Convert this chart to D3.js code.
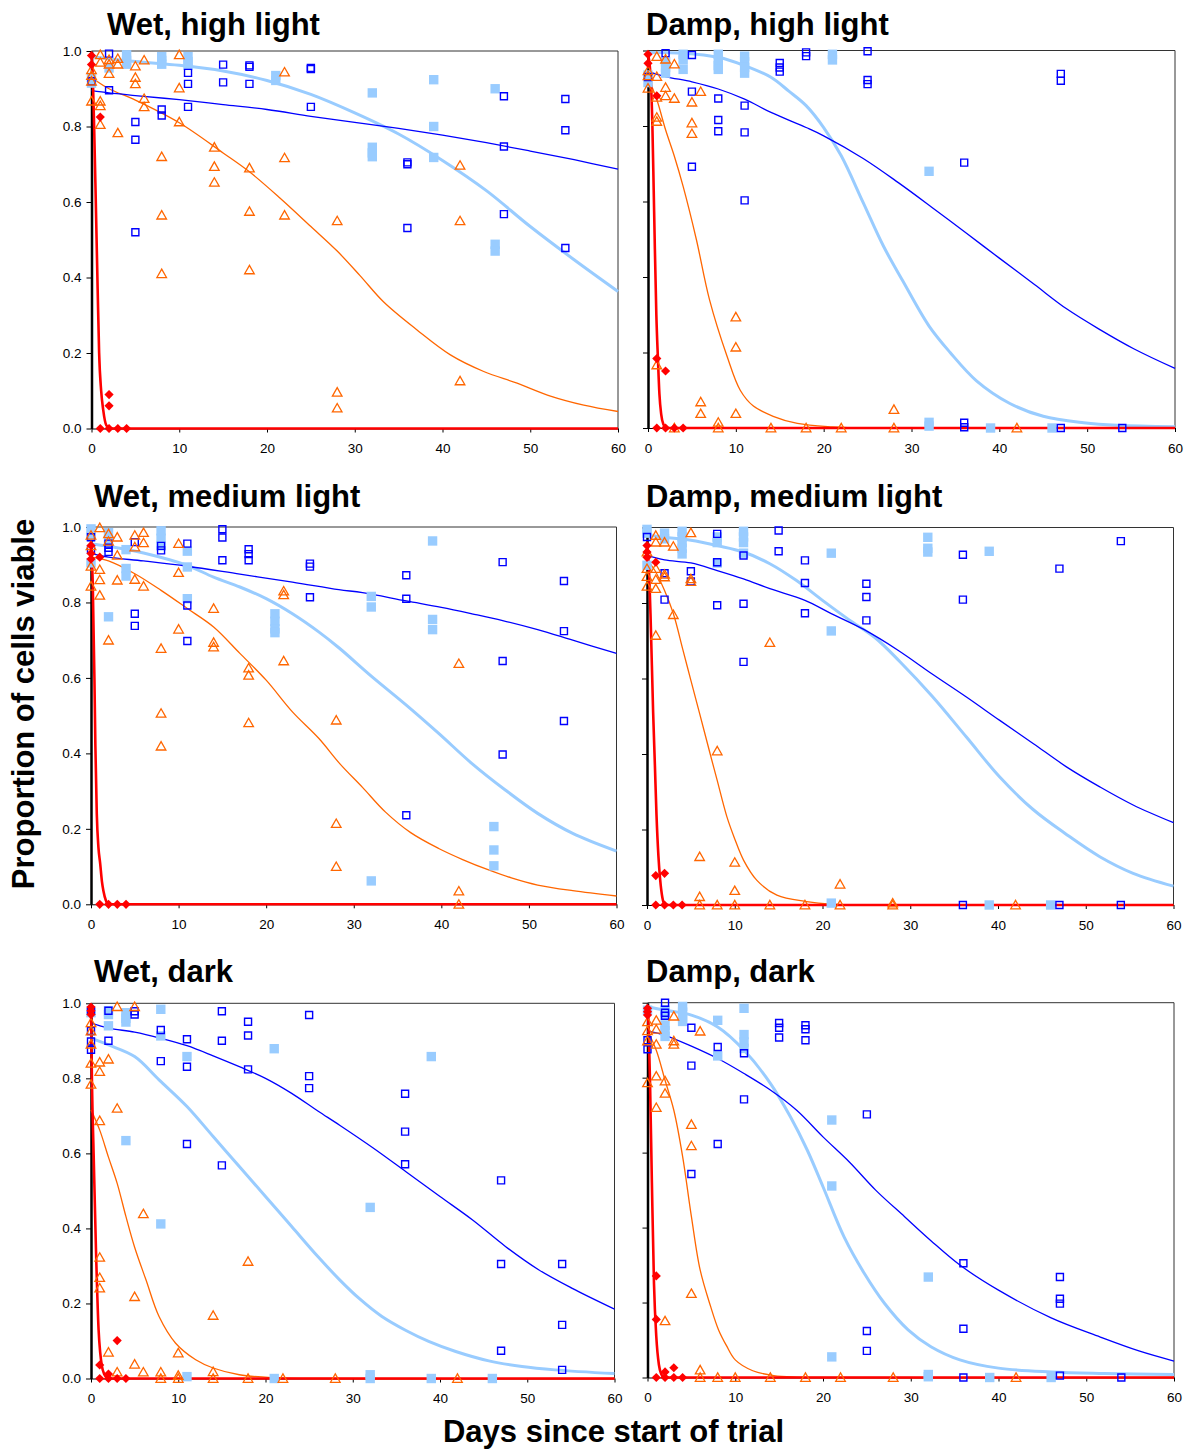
<!DOCTYPE html>
<html>
<head>
<meta charset="utf-8">
<script src="https://cdn.jsdelivr.net/npm/d3@7"></script>
<style>
html, body { margin: 0; padding: 0; background: #fff; }
svg { display: block; font-family: "Liberation Sans", Arial, Helvetica, sans-serif; }
</style>
</head>
<body>
<svg id="chart" width="1189" height="1450"></svg>
<script>
// ---- axis ticks and titles ----
const xTicks = [0, 10, 20, 30, 40, 50, 60];
const yTicks = [0, 0.2, 0.4, 0.6, 0.8, 1.0];
const panelTitles = ["Wet, high light", "Damp, high light", "Wet, medium light",
                     "Damp, medium light", "Wet, dark", "Damp, dark"];
const yAxisTitle = "Proportion of cells viable";
const xAxisTitle = "Days since start of trial";

// ---- observations: [day, [proportion viable of each replicate]] ----
// Wet, high light
const wetHighRed = [[0,[0.988,0.964]],[1,[0.825,0]],[2,[0.09,0.06,0]],[3,[0]],[4,[0]]];
const wetHighOrange = [[0,[0.95,0.935,0.92,0.867]],[1,[0.99,0.97,0.867,0.855,0.805]],[2,[0.977,0.965,0.94]],
  [3,[0.98,0.965,0.783]],[5,[0.96,0.93,0.913]],[6,[0.976,0.874,0.852]],[8,[0.72,0.565,0.41]],
  [10,[0.99,0.902,0.812]],[14,[0.745,0.694,0.652]],[18,[0.69,0.575,0.42]],[22,[0.944,0.717,0.565]],
  [28,[0.55,0.096,0.054]],[42,[0.697,0.55,0.126]]];
const wetHighBlue = [[0,[0.92]],[2,[0.993,0.896]],[5,[0.812,0.765,0.52]],[8,[0.845,0.829]],
  [11,[0.942,0.913,0.852]],[15,[0.964,0.917]],[18,[0.962,0.958,0.913]],[25,[0.955,0.952,0.852]],
  [36,[0.705,0.70,0.531]],[47,[0.88,0.747,0.568]],[54,[0.873,0.79,0.478]]];
const wetHighSky = [[0,[0.93,0.915]],[2,[0.955]],[4,[0.99,0.975,0.965]],[8,[0.985,0.975,0.965]],
  [11,[0.985,0.972,0.962]],[21,[0.935,0.922]],[32,[0.889,0.745,0.73,0.72]],[39,[0.924,0.80,0.718]],
  [46,[0.90,0.488,0.47]]];

// Damp, high light
const dampHighRed = [[0,[0.99,0.966]],[1,[0.88,0.184,0]],[2,[0.151,0]],[3,[0]],[4,[0]]];
const dampHighOrange = [[0,[0.946,0.933,0.90]],[1,[0.984,0.931,0.876,0.823,0.812,0.167]],[2,[0.977,0.902,0.88]],
  [3,[0.964,0.873,0]],[5,[0.863,0.808,0.78]],[6,[0.891,0.069,0.038]],[8,[0.015,0]],[10,[0.294,0.214,0.038]],
  [14,[0]],[18,[0]],[22,[0]],[28,[0.049,0]],[42,[0]]];
const dampHighBlue = [[0,[0.93]],[2,[0.993]],[5,[0.988,0.891,0.692]],[8,[0.873,0.816,0.786]],
  [11,[0.854,0.783,0.603]],[15,[0.967,0.955,0.944]],[18,[0.995,0.985]],[25,[0.998,0.922,0.911]],
  [36,[0.703,0.014,0.002]],[47,[0.938,0.92,0]],[54,[0]]];
const dampHighSky = [[0,[0.935,0.915]],[2,[0.97,0.955,0.94]],[4,[0.99,0.975,0.95]],[8,[0.99,0.975,0.96,0.95]],
  [11,[0.985,0.97,0.955,0.94]],[21,[0.99,0.975]],[32,[0.68,0.015,0.005]],[39,[0]],[46,[0]]];

// Wet, medium light
const wetMedRed = [[0,[0.951,0.93,0.915]],[1,[0.92,0]],[2,[0]],[3,[0]],[4,[0]]];
const wetMedOrange = [[0,[0.978,0.95,0.896,0.843]],[1,[0.998,0.887,0.86,0.819]],[2,[0.982,0.962,0.70]],
  [3,[0.973,0.925,0.859]],[5,[0.978,0.947,0.861]],[6,[0.985,0.958,0.843]],[8,[0.678,0.506,0.419]],
  [10,[0.956,0.879,0.729]],[14,[0.784,0.694,0.682]],[18,[0.626,0.607,0.481]],[22,[0.83,0.82,0.645]],
  [28,[0.488,0.214,0.10]],[42,[0.638,0.035,0]]];
const wetMedBlue = [[0,[0.973,0.94]],[2,[0.956,0.945,0.934]],[5,[0.96,0.77,0.738]],[8,[0.95,0.938]],
  [11,[0.956,0.792,0.698]],[15,[0.994,0.972,0.912]],[18,[0.941,0.928,0.912]],[25,[0.903,0.895,0.814]],
  [36,[0.872,0.81,0.236]],[47,[0.907,0.645,0.397]],[54,[0.857,0.724,0.486]]];
const wetMedSky = [[0,[0.995,0.975,0.905]],[2,[0.985,0.965,0.762]],[4,[0.94,0.89,0.87]],[8,[0.99,0.97,0.95]],
  [11,[0.936,0.894,0.81]],[21,[0.77,0.75,0.73,0.72]],[32,[0.816,0.788,0.062]],[39,[0.963,0.755,0.728]],
  [46,[0.206,0.144,0.102]]];

// Damp, medium light
const dampMedRed = [[0,[0.952,0.935,0.921]],[1,[0.908,0.078,0]],[2,[0.084,0]],[3,[0]],[4,[0]]];
const dampMedOrange = [[0,[0.935,0.891,0.87,0.844]],[1,[0.979,0.961,0.891,0.862,0.838,0.714]],
  [2,[0.961,0.876,0.869]],[3,[0.95,0.769]],[5,[0.986,0.864,0.857]],[6,[0.128,0.022,0]],[8,[0.408,0]],
  [10,[0.113,0.038,0]],[14,[0.695,0]],[18,[0]],[22,[0.055,0]],[28,[0.005,0]],[42,[0]]];
const dampMedBlue = [[0,[0.975]],[2,[0.879,0.809]],[5,[0.884,0.857]],[8,[0.983,0.908,0.794]],
  [11,[0.926,0.798,0.644]],[15,[0.992,0.937]],[18,[0.913,0.853,0.773]],[25,[0.851,0.816,0.754]],
  [36,[0.928,0.809,0]],[47,[0.891,0]],[54,[0.964,0]]];
const dampMedSky = [[0,[0.995,0.985,0.90]],[2,[0.985,0.97]],[4,[0.99,0.975,0.96,0.945,0.93]],
  [8,[0.975,0.96,0.906]],[11,[0.99,0.975,0.96,0.932]],[21,[0.932,0.726,0.005]],[32,[0.974,0.945,0.935]],
  [39,[0.937,0]],[46,[0]]];

// Wet, dark
const wetDarkRed = [[0,[0.99,0.98,0.97]],[1,[0.036,0]],[2,[0.012,0]],[3,[0.101,0]],[4,[0]]];
const wetDarkOrange = [[0,[0.948,0.926,0.891,0.84,0.784]],[1,[0.843,0.818,0.687,0.323,0.269,0.241]],
  [2,[0.851,0.07]],[3,[0.991,0.72,0.017]],[5,[0.991,0.218,0.038]],[6,[0.439,0.017]],[8,[0.017,0]],
  [10,[0.068,0.008,0]],[14,[0.168,0.018,0]],[18,[0.312,0]],[22,[0]],[28,[0]],[42,[0]]];
const wetDarkBlue = [[0,[0.98,0.926,0.898,0.876]],[2,[0.98,0.90]],[5,[0.979,0.97]],[8,[0.929,0.846]],
  [11,[0.904,0.831,0.625]],[15,[0.979,0.90,0.568]],[18,[0.951,0.914,0.824]],[25,[0.969,0.806,0.774]],
  [36,[0.759,0.658,0.571]],[47,[0.528,0.305,0.074]],[54,[0.305,0.143,0.023]]];
const wetDarkSky = [[0,[0.975]],[2,[0.98,0.97,0.94]],[4,[0.975,0.96,0.95,0.634]],[8,[0.984,0.913,0.412]],
  [11,[0.858,0.005]],[21,[0.879,0]],[32,[0.456,0.01,0]],[39,[0.858,0]],[46,[0]]];

// Damp, dark
const dampDarkRed = [[0,[0.985,0.976,0.967]],[1,[0.271,0.155,0]],[2,[0.015,0]],[3,[0.026,0]],[4,[0]]];
const dampDarkOrange = [[0,[0.949,0.925,0.898,0.786]],[1,[0.953,0.929,0.889,0.804,0.72]],
  [2,[0.791,0.758,0.151]],[3,[0.964,0.898,0.889]],[5,[0.675,0.618,0.224]],[6,[0.924,0.02,0]],
  [8,[0]],[10,[0]],[14,[0]],[18,[0]],[22,[0]],[28,[0]],[42,[0]]];
const dampDarkBlue = [[0,[0.90,0.876]],[2,[1.0,0.973,0.965]],[5,[0.933,0.832,0.543]],[8,[0.882,0.623]],
  [11,[0.865,0.742]],[15,[0.946,0.933,0.907]],[18,[0.94,0.929,0.90]],[25,[0.702,0.124,0.071]],
  [36,[0.305,0.13,0]],[47,[0.268,0.21,0.197,0.005]],[54,[0]]];
const dampDarkSky = [[0,[0.98]],[2,[0.98,0.965,0.94,0.925,0.91]],[4,[0.99,0.975,0.96,0.95]],
  [8,[0.953,0.858]],[11,[0.985,0.915,0.895,0.878]],[21,[0.687,0.511,0.055]],[32,[0.268,0.008,0.002]],
  [39,[0]],[46,[0]]];

// ---- fitted survival curves: [day, proportion viable] ----
const wetHighRedFit = [[0,0.99],[0.15,0.93],[0.3,0.8],[0.49,0.6],[0.7,0.37],[0.87,0.2],[1.1,0.1],[1.33,0.05],[1.7,0.008],[2.2,0],[60,0]];
const wetHighOrangeFit = [[0,0.93],[2,0.90],[5,0.87],[10,0.81],[15,0.73],[18,0.68],[21.5,0.61],[25,0.535],[28,0.47],[30.6,0.405],[33.3,0.335],[37.1,0.261],[40.9,0.195],[44.7,0.151],[48.5,0.12],[52.3,0.086],[56.1,0.062],[60,0.045]];
const wetHighBlueFit = [[0,0.895],[2,0.889],[5,0.882],[10,0.871],[15,0.858],[20,0.845],[25,0.827],[30,0.811],[35,0.795],[40,0.777],[45,0.757],[50,0.735],[55,0.712],[60,0.687]];
const wetHighSkyFit = [[0,0.985],[5,0.972],[10,0.962],[15,0.947],[20,0.922],[25,0.885],[30,0.836],[35,0.78],[40,0.71],[45,0.63],[50,0.535],[55,0.447],[60,0.363]];

const dampHighRedFit = [[0,0.99],[0.3,0.93],[0.5,0.80],[0.65,0.63],[0.76,0.50],[0.95,0.30],[1.13,0.184],[1.3,0.09],[1.5,0.037],[1.75,0.01],[2.1,0],[60,0]];
const dampHighOrangeFit = [[0,0.93],[1,0.87],[2,0.79],[3,0.72],[4,0.64],[5.5,0.50],[7,0.34],[9,0.19],[10.5,0.10],[12,0.058],[14.25,0.031],[17,0.012],[21,0.003],[25,0],[60,0]];
const dampHighBlueFit = [[0,0.945],[2,0.931],[5,0.917],[8,0.898],[11,0.871],[14,0.836],[18,0.796],[20,0.774],[24.5,0.714],[28.5,0.65],[32.3,0.585],[36.3,0.515],[40,0.45],[44,0.38],[47.7,0.315],[51.5,0.26],[55.3,0.21],[60,0.158]];
const dampHighSkyFit = [[0,0.995],[4,0.993],[8,0.982],[11,0.96],[14,0.929],[16,0.893],[18,0.854],[20,0.796],[22,0.721],[24.5,0.597],[26.8,0.482],[29,0.39],[32,0.27],[34.4,0.2],[37.4,0.125],[41.2,0.065],[45,0.031],[49.6,0.014],[53.4,0.007],[60,0.003]];

const wetMedRedFit = [[0,0.95],[0.2,0.85],[0.39,0.6],[0.5,0.42],[0.66,0.24],[0.85,0.15],[1.04,0.11],[1.25,0.06],[1.42,0.035],[1.7,0.01],[2,0],[60,0]];
const wetMedOrangeFit = [[0,0.92],[2,0.91],[5,0.876],[8,0.832],[11,0.784],[14,0.735],[17,0.665],[20,0.594],[23,0.51],[26,0.44],[28.4,0.373],[31,0.31],[33.6,0.245],[36.5,0.19],[39.7,0.148],[42.5,0.118],[45.4,0.091],[48,0.07],[51,0.051],[55,0.036],[60,0.022]];
const wetMedBlueFit = [[0,0.93],[2,0.92],[6,0.91],[11,0.896],[17,0.875],[23,0.854],[28.3,0.834],[31,0.826],[36,0.804],[40,0.787],[43.5,0.77],[47,0.752],[51,0.728],[55,0.70],[60,0.665]];
const wetMedSkyFit = [[0,0.955],[2,0.949],[6,0.931],[11,0.898],[14,0.867],[17,0.841],[20,0.81],[23,0.77],[26,0.722],[28.3,0.68],[32,0.605],[36,0.528],[39.7,0.453],[43.5,0.373],[47.3,0.303],[51,0.241],[55,0.188],[60,0.141]];

const dampMedRedFit = [[0,0.95],[0.2,0.9],[0.4,0.77],[0.7,0.51],[0.9,0.37],[1.08,0.24],[1.3,0.13],[1.5,0.067],[1.75,0.02],[2,0.003],[2.5,0],[60,0]];
const dampMedOrangeFit = [[0,0.915],[0.9,0.886],[2,0.833],[3,0.772],[4.1,0.675],[5,0.595],[6,0.507],[7.2,0.40],[8,0.33],[9.1,0.234],[10,0.175],[11,0.119],[12.5,0.066],[14.8,0.026],[18.2,0.009],[21,0.002],[25,0],[60,0]];
const dampMedBlueFit = [[0,0.926],[2,0.914],[5,0.906],[8,0.886],[11,0.864],[14,0.838],[18,0.807],[21,0.772],[24.7,0.73],[28.6,0.675],[32.5,0.612],[36.4,0.551],[40.2,0.489],[44,0.428],[47.8,0.366],[51.6,0.313],[55.4,0.265],[60,0.218]];
const dampMedSkyFit = [[0,0.98],[2,0.974],[5,0.966],[8,0.952],[11,0.935],[14,0.904],[17,0.86],[20,0.807],[23,0.756],[26,0.708],[28.8,0.645],[32.5,0.553],[36.4,0.445],[40.2,0.339],[44,0.253],[47.8,0.187],[51.6,0.128],[55.4,0.084],[60,0.05]];

const wetDarkRedFit = [[0,0.99],[0.11,0.79],[0.3,0.6],[0.57,0.343],[0.87,0.13],[1.05,0.07],[1.25,0.033],[1.5,0.012],[1.85,0.002],[2.2,0],[60,0]];
const wetDarkOrangeFit = [[0,0.716],[1,0.662],[2,0.59],[3,0.52],[4,0.432],[5,0.35],[6.3,0.263],[7.8,0.165],[9.7,0.094],[12,0.05],[14,0.028],[17,0.01],[21,0.002],[25,0],[60,0]];
const wetDarkBlueFit = [[0,0.947],[2,0.934],[5,0.923],[7.8,0.908],[11,0.887],[14,0.86],[17,0.831],[20,0.80],[23,0.76],[26,0.713],[28.5,0.675],[32.3,0.615],[36.1,0.551],[40,0.485],[43.7,0.423],[47.5,0.352],[51.3,0.29],[55.1,0.241],[60,0.185]];
const wetDarkSkyFit = [[0,0.907],[2,0.889],[5,0.858],[7.8,0.796],[11,0.725],[14,0.645],[17,0.565],[20,0.485],[23,0.405],[26,0.325],[28.5,0.263],[30.8,0.212],[33.3,0.166],[36.1,0.128],[38.7,0.099],[41.8,0.072],[45.6,0.047],[49.4,0.032],[53.2,0.023],[60,0.013]];

const dampDarkRedFit = [[0,0.99],[0.15,0.92],[0.29,0.785],[0.5,0.52],[0.74,0.25],[1.0,0.11],[1.3,0.034],[1.55,0.01],[1.8,0.002],[2.2,0],[60,0]];
const dampDarkOrangeFit = [[0,0.925],[1,0.873],[2,0.793],[3,0.713],[4,0.59],[5,0.43],[6,0.287],[7.2,0.189],[8.1,0.127],[9,0.085],[10,0.047],[12,0.018],[14.4,0.005],[17,0.001],[20,0],[60,0]];
const dampDarkBlueFit = [[0,0.925],[2,0.913],[5,0.884],[8,0.851],[11,0.811],[14,0.767],[17,0.713],[20,0.642],[23,0.575],[26,0.50],[29.3,0.429],[32.3,0.365],[35.6,0.30],[40,0.233],[46,0.159],[51.6,0.108],[56,0.071],[60,0.044]];
const dampDarkSkyFit = [[0,0.989],[2,0.98],[5,0.967],[8,0.935],[11,0.873],[14,0.785],[16.3,0.695],[18.2,0.607],[20,0.509],[22.4,0.375],[24.7,0.278],[27,0.198],[29.7,0.127],[32.3,0.082],[35.6,0.047],[40,0.025],[46,0.015],[52,0.011],[60,0.008]];

// ---- panel assembly ----
const panelSeries = [
  { red: wetHighRed, orange: wetHighOrange, blue: wetHighBlue, sky: wetHighSky,
    redFit: wetHighRedFit, orangeFit: wetHighOrangeFit, blueFit: wetHighBlueFit, skyFit: wetHighSkyFit },
  { red: dampHighRed, orange: dampHighOrange, blue: dampHighBlue, sky: dampHighSky,
    redFit: dampHighRedFit, orangeFit: dampHighOrangeFit, blueFit: dampHighBlueFit, skyFit: dampHighSkyFit },
  { red: wetMedRed, orange: wetMedOrange, blue: wetMedBlue, sky: wetMedSky,
    redFit: wetMedRedFit, orangeFit: wetMedOrangeFit, blueFit: wetMedBlueFit, skyFit: wetMedSkyFit },
  { red: dampMedRed, orange: dampMedOrange, blue: dampMedBlue, sky: dampMedSky,
    redFit: dampMedRedFit, orangeFit: dampMedOrangeFit, blueFit: dampMedBlueFit, skyFit: dampMedSkyFit },
  { red: wetDarkRed, orange: wetDarkOrange, blue: wetDarkBlue, sky: wetDarkSky,
    redFit: wetDarkRedFit, orangeFit: wetDarkOrangeFit, blueFit: wetDarkBlueFit, skyFit: wetDarkSkyFit },
  { red: dampDarkRed, orange: dampDarkOrange, blue: dampDarkBlue, sky: dampDarkSky,
    redFit: dampDarkRedFit, orangeFit: dampDarkOrangeFit, blueFit: dampDarkBlueFit, skyFit: dampDarkSkyFit }
];

// plot-area placement of each panel
const frames = [
  { x0: 91.5, x1: 618,    top: 51,     bottom: 428.5, tx: 107, ty: 35,  labels: true },
  { x0: 648,  x1: 1175,   top: 50.5,   bottom: 428,   tx: 646, ty: 35,  labels: false },
  { x0: 91,   x1: 616.5,  top: 527,    bottom: 904.3, tx: 94,  ty: 507, labels: true },
  { x0: 647,  x1: 1173.5, top: 527.5,  bottom: 905,   tx: 646, ty: 507, labels: false },
  { x0: 91,   x1: 614.5,  top: 1003.3, bottom: 1378.5,tx: 94,  ty: 982, labels: true },
  { x0: 647.5,x1: 1174,   top: 1002.7, bottom: 1377.5,tx: 646, ty: 982, labels: false }
];

const COLORS = { red: "#ff0000", orange: "#ff6600", blue: "#0000ff", sky: "#99ccff" };
const FONT = '"Liberation Sans", Arial, Helvetica, sans-serif';

const squarePath = s => `M${-s / 2},${-s / 2}h${s}v${s}h${-s}Z`;
const trianglePath = "M0,-4.6L4.8,3.8L-4.8,3.8Z";
const diamondPath = r => `M0,${-r}L${r},0L0,${r}L${-r},0Z`;
const flatten = obs => obs.flatMap(([d, vs]) => vs.map(v => [d, v]));

const svg = d3.select("#chart");

frames.forEach((f, i) => {
  const s = panelSeries[i];
  const g = svg.append("g").attr("class", "panel");
  const x = d3.scaleLinear().domain([0, 60]).range([f.x0, f.x1]);
  const y = d3.scaleLinear().domain([0, 1]).range([f.bottom, f.top]);

  // title
  g.append("text")
    .attr("x", f.tx).attr("y", f.ty)
    .attr("font-family", FONT).attr("font-size", 31).attr("font-weight", "bold")
    .attr("fill", "#000")
    .text(panelTitles[i]);

  // top and right border of the plot area
  g.append("path")
    .attr("d", `M${f.x0},${f.top}H${f.x1}V${f.bottom}`)
    .attr("fill", "none").attr("stroke", "#333").attr("stroke-width", 1);

  // x axis
  const xa = g.append("g")
    .attr("transform", `translate(0,${f.bottom})`)
    .call(d3.axisBottom(x).tickValues(xTicks).tickSize(4).tickSizeOuter(0)
      .tickPadding(11).tickFormat(d3.format("d")));
  // y axis
  const ya = g.append("g")
    .attr("transform", `translate(${f.x0},0)`)
    .call(d3.axisLeft(y).tickValues(yTicks).tickSize(5).tickSizeOuter(0)
      .tickPadding(5).tickFormat(f.labels ? d3.format(".1f") : () => ""));
  [xa, ya].forEach(a => {
    a.attr("font-family", FONT).attr("font-size", 13.5);
    a.selectAll("line").attr("stroke", "#000").attr("stroke-width", 1);
    a.selectAll("text").attr("fill", "#000");
  });
  xa.select(".domain").attr("stroke", "#000").attr("stroke-width", 1);
  ya.select(".domain").attr("stroke", "#000").attr("stroke-width", 2.5);

  // fitted curves
  const smooth = d3.line().x(d => x(d[0])).y(d => y(d[1])).curve(d3.curveCatmullRom.alpha(0.5));
  const steep = d3.line().x(d => x(d[0])).y(d => y(d[1])).curve(d3.curveMonotoneX);
  const curves = [
    { data: s.skyFit, color: COLORS.sky, w: 3, gen: smooth },
    { data: s.orangeFit, color: COLORS.orange, w: 1.3, gen: smooth },
    { data: s.blueFit, color: COLORS.blue, w: 1.3, gen: smooth },
    { data: s.redFit, color: COLORS.red, w: 2.6, gen: steep }
  ];
  g.selectAll("path.fit").data(curves).join("path")
    .attr("class", "fit")
    .attr("d", c => c.gen(c.data))
    .attr("fill", "none")
    .attr("stroke", c => c.color)
    .attr("stroke-width", c => c.w)
    .attr("stroke-linejoin", "round");

  // observations
  g.selectAll("path.sky").data(flatten(s.sky)).join("path")
    .attr("class", "sky")
    .attr("transform", d => `translate(${x(d[0])},${y(d[1])})`)
    .attr("d", squarePath(9.4))
    .attr("fill", COLORS.sky);

  g.selectAll("path.blue").data(flatten(s.blue)).join("path")
    .attr("class", "blue")
    .attr("transform", d => `translate(${x(d[0])},${y(d[1])})`)
    .attr("d", squarePath(7))
    .attr("fill", "none").attr("stroke", COLORS.blue).attr("stroke-width", 1.4);

  g.selectAll("path.orange").data(flatten(s.orange)).join("path")
    .attr("class", "orange")
    .attr("transform", d => `translate(${x(d[0])},${y(d[1])})`)
    .attr("d", trianglePath)
    .attr("fill", "none").attr("stroke", COLORS.orange).attr("stroke-width", 1.3)
    .attr("stroke-linejoin", "miter");

  g.selectAll("path.red").data(flatten(s.red)).join("path")
    .attr("class", "red")
    .attr("transform", d => `translate(${x(d[0])},${y(d[1])})`)
    .attr("d", diamondPath(4.6))
    .attr("fill", COLORS.red);
});

// shared axis titles
svg.append("text")
  .attr("transform", "translate(34,704) rotate(-90)")
  .attr("text-anchor", "middle")
  .attr("font-family", FONT).attr("font-size", 31).attr("font-weight", "bold")
  .attr("fill", "#000")
  .text(yAxisTitle);

svg.append("text")
  .attr("x", 613.5).attr("y", 1442)
  .attr("text-anchor", "middle")
  .attr("font-family", FONT).attr("font-size", 31).attr("font-weight", "bold")
  .attr("fill", "#000")
  .text(xAxisTitle);
</script>
</body>
</html>
